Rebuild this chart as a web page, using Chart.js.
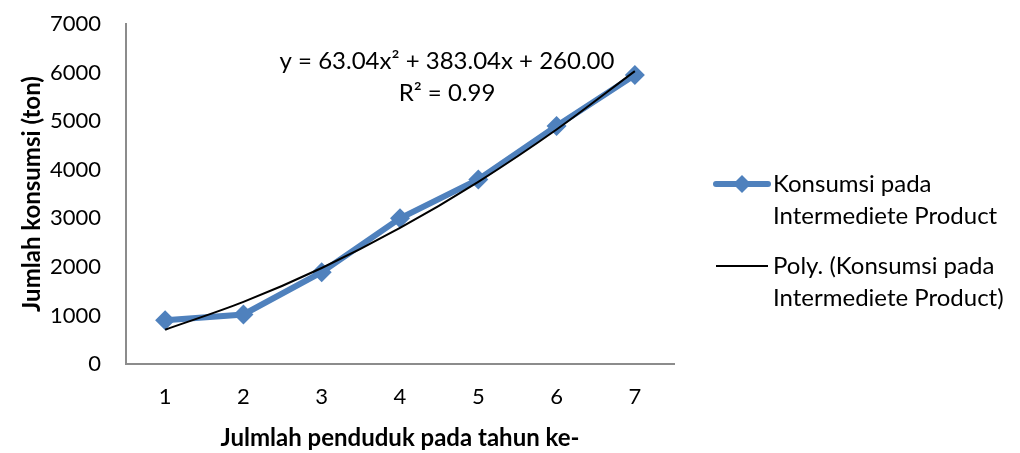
<!DOCTYPE html>
<html>
<head>
<meta charset="utf-8">
<script src="https://cdn.jsdelivr.net/npm/chart.js@4/dist/chart.umd.min.js"></script>
<style>
  html, body { margin: 0; padding: 0; background: #fff; }
  #wrap { width: 1020px; height: 453px; position: relative; }
</style>
</head>
<body>
<div id="wrap"><canvas id="lineChart"></canvas></div>
<script>
const years = ['1', '2', '3', '4', '5', '6', '7'];
const konsumsi = [900, 1020, 1890, 3000, 3800, 4900, 5950];
// trendline values as drawn (poly order 2)
const polyTrend = [706, 1278, 1976, 2801, 3751, 4828, 6030];
const yTicks = [0, 1000, 2000, 3000, 4000, 5000, 6000, 7000];

const equationLines = ['y = 63.04x\u00B2 + 383.04x + 260.00', 'R\u00B2 = 0.99'];
const legendLines = [
    ['Konsumsi pada', 'Intermediete Product'],
    ['Poly. (Konsumsi pada', 'Intermediete Product)']
];

const FONT = 'Lato, "Open Sans", sans-serif';
const BLUE = '#4f81bd';

// equation label and two-line legend, drawn on top of the chart
const extras = {
    id: 'extras',
    afterDraw(chart) {
        const ctx = chart.ctx;
        ctx.save();
        ctx.fillStyle = '#000';
        ctx.font = '24px ' + FONT;
        ctx.textAlign = 'center';
        ctx.textBaseline = 'middle';
        ctx.fillText(equationLines[0], 447, 61);
        ctx.fillText(equationLines[1], 447, 93);

        // legend
        const items = [
            { y: 184, color: BLUE, width: 6, marker: true },
            { y: 266, color: '#000', width: 2, marker: false }
        ];
        items.forEach((it, i) => {
            ctx.strokeStyle = it.color;
            ctx.lineWidth = it.width;
            ctx.lineCap = it.marker ? 'round' : 'butt';
            ctx.beginPath();
            ctx.moveTo(716, it.y);
            ctx.lineTo(768, it.y);
            ctx.stroke();
            if (it.marker) {
                ctx.fillStyle = BLUE;
                ctx.beginPath();
                ctx.moveTo(742, it.y - 9);
                ctx.lineTo(751, it.y);
                ctx.lineTo(742, it.y + 9);
                ctx.lineTo(733, it.y);
                ctx.closePath();
                ctx.fill();
            }
            ctx.fillStyle = '#000';
            ctx.textAlign = 'left';
            ctx.fillText(legendLines[i][0], 773, it.y);
            ctx.fillText(legendLines[i][1], 773, it.y + 32);
        });
        ctx.restore();
    }
};

const ctx = document.getElementById('lineChart').getContext('2d');
new Chart(ctx, {
    type: 'line',
    data: {
        labels: years,
        datasets: [
            {
                label: 'Konsumsi pada Intermediete Product',
                data: konsumsi,
                borderColor: BLUE,
                backgroundColor: BLUE,
                borderWidth: 6,
                pointStyle: 'rectRot',
                pointRadius: 10,
                pointBorderWidth: 0,
                tension: 0,
                order: 2
            },
            {
                label: 'Poly. (Konsumsi pada Intermediete Product)',
                data: polyTrend,
                borderColor: '#000',
                borderWidth: 2,
                pointRadius: 0,
                cubicInterpolationMode: 'monotone',
                order: 1
            }
        ]
    },
    options: {
        responsive: true,
        maintainAspectRatio: false,
        animation: false,
        layout: { padding: { top: 24, right: 346, left: 0, bottom: 0 } },
        plugins: {
            legend: { display: false },
            tooltip: { enabled: false }
        },
        scales: {
            x: {
                offset: true,
                grid: { display: false, drawTicks: false },
                border: { color: '#8c8c8c', width: 2 },
                ticks: { color: '#000', padding: 20, font: { family: FONT, size: 22 } },
                title: {
                    display: true,
                    text: 'Julmlah penduduk pada tahun ke-',
                    color: '#000',
                    font: { family: FONT, size: 24, weight: 'bold' },
                    padding: { top: 0, bottom: 0 }
                },
                afterFit(scale) { scale.height = 89; }
            },
            y: {
                min: yTicks[0],
                max: yTicks[yTicks.length - 1],
                afterBuildTicks(scale) { scale.ticks = yTicks.map(v => ({ value: v })); },
                grid: { display: false, drawTicks: false },
                border: { color: '#8c8c8c', width: 2 },
                ticks: {
                    color: '#000',
                    padding: 25,
                    font: { family: FONT, size: 22 },
                    callback: v => String(v)
                },
                title: {
                    display: true,
                    text: 'Jumlah konsumsi (ton)',
                    color: '#000',
                    font: { family: FONT, size: 24, weight: 'bold' },
                    padding: { top: 18, bottom: 0 }
                },
                afterFit(scale) {
                    scale.width = 126;
                    scale.paddingTop = 0;
                    scale.paddingBottom = 0;
                }
            }
        }
    },
    plugins: [extras]
});
</script>
</body>
</html>
